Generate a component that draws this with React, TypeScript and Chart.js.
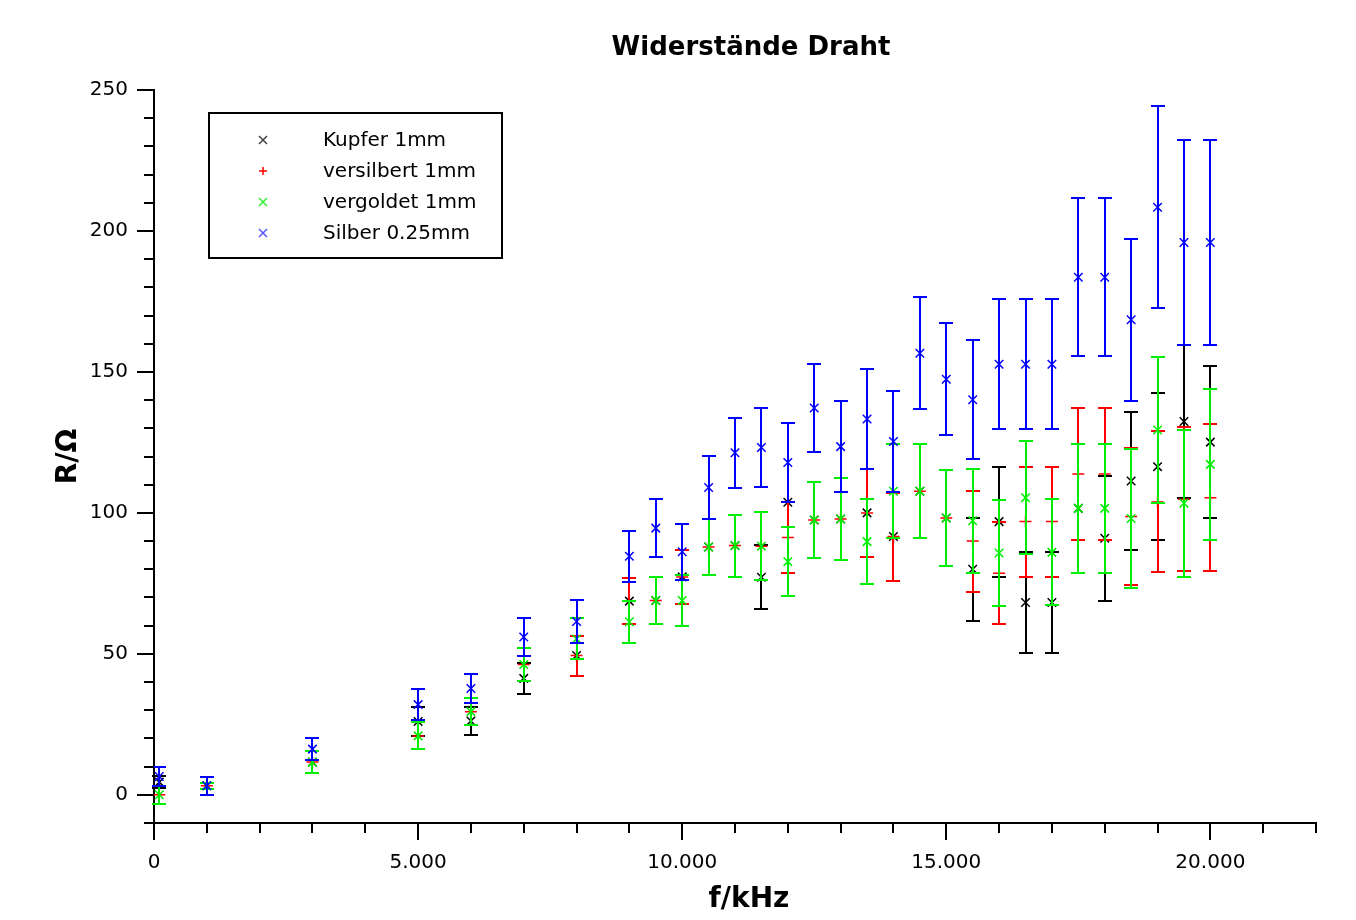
import React, { useEffect, useRef } from 'react';
import { Chart, registerables } from 'chart.js';

Chart.register(...registerables);

const chartTitle = 'Widerstände Draht';
const xAxisTitle = 'f/kHz';
const yAxisTitle = 'R/Ω';

const frequencies = [100, 1000, 3000, 5000, 6000, 7000, 8000, 9000, 9500, 10000, 10500, 11000, 11500, 12000, 12500, 13000, 13500, 14000, 14500, 15000, 15500, 16000, 16500, 17000, 17500, 18000, 18500, 19000, 19500, 20000];

const kupferR = [4.5, 3.2, 11.6, 26, 26.2, 41.3, 49.4, 68.7, 68.9, 77.3, 87.9, 88.4, 77.2, 103.8, 97.5, 97.8, 100, 91.6, 107.7, 98.2, 80, 96.9, 68.2, 68.2, 101.6, 91, 111.3, 116.4, 132.4, 125.1];
const kupferErr = [2, 3.2, 3.9, 5.2, 5, 5.5, 7.1, 8.1, 8.4, 9.6, 9.9, 11, 11.4, 0, 13.6, 14.6, 15.5, 15.6, 16.7, 16.9, 18.3, 19.5, 18, 18, 22.8, 22.2, 24.5, 26, 27, 27];

const versilbertR = [0, 3.2, 11.6, 20.9, 29.5, 46.2, 49.4, 68.7, 68.9, 77.3, 87.9, 88.4, 88.2, 91.3, 97.5, 97.8, 100, 91.6, 107.7, 98.2, 90, 78.6, 96.9, 96.9, 113.8, 113.8, 98.7, 103.9, 104.8, 105.4];
const versilbertErr = [3.2, 3.2, 3.9, 4.8, 4.9, 6, 7.1, 8.1, 8.4, 9.6, 9.9, 11, 12, 12.5, 13.6, 14.6, 15.5, 15.6, 16.7, 16.9, 17.9, 18, 19.5, 19.5, 23.5, 23.5, 24.2, 25, 25.5, 26];

const vergoldetR = [0, 3.2, 11.6, 20.9, 29.5, 46.2, 55.3, 61.4, 68.9, 68.9, 87.9, 88.4, 88.2, 82.7, 97.5, 97.8, 89.8, 107.7, 107.7, 98.2, 97.2, 85.8, 105.4, 86, 101.6, 101.6, 98, 129.4, 103.4, 117.2];
const vergoldetErr = [3.2, 1, 3.9, 4.8, 4.9, 6, 7.3, 7.5, 8.4, 9.2, 9.9, 11, 12, 12.2, 13.6, 14.6, 15, 16.6, 16.7, 16.9, 18.5, 18.8, 20, 18.8, 22.8, 22.8, 24.5, 26, 26, 26.8];

const silberR = [6.5, 3.2, 16.2, 32, 37.7, 56, 61.5, 84.6, 94.6, 86.2, 109, 121.3, 123.2, 117.9, 137.2, 123.5, 133.3, 125.3, 156.6, 147.4, 140.1, 152.7, 152.7, 152.7, 183.6, 183.6, 168.5, 208.4, 195.9, 195.9];
const silberErr = [3.3, 3.2, 4, 5.6, 5.2, 6.6, 7.5, 9, 10.2, 10, 11.2, 12.5, 13.9, 14.1, 15.5, 16.2, 17.7, 18, 19.8, 19.9, 21.1, 23.1, 23.1, 23.1, 28, 28, 28.7, 35.9, 36.4, 36.4];

const seriesNames = ['Kupfer 1mm', 'versilbert 1mm', 'vergoldet 1mm', 'Silber 0.25mm'];
const seriesColors = ['#000000', '#ff0000', '#00ee00', '#0000ff'];
const legendColors = ['#404040', '#ff0000', '#33ee33', '#5555ff'];
const seriesStyles = ['crossRot', 'cross', 'crossRot', 'crossRot'];
const seriesValues = [kupferR, versilbertR, vergoldetR, silberR];
const seriesErrors = [kupferErr, versilbertErr, vergoldetErr, silberErr];

const FONT = "'DejaVu Sans', Verdana, sans-serif";

const formatThousands = (v: number) => {
  const s = String(Math.round(v));
  return s.replace(/\B(?=(\d{3})+(?!\d))/g, '.');
};

const errorBarPlugin = {
  id: 'errorBars',
  beforeDatasetDraw(chart: any, args: any) {
    const i = args.index;
    const errs = seriesErrors[i];
    const ds = chart.data.datasets[i];
    const { ctx } = chart;
    const xs = chart.scales.x;
    const ys = chart.scales.y;
    ctx.save();
    ctx.strokeStyle = seriesColors[i];
    ctx.lineWidth = 2;
    ds.data.forEach((p: any, k: number) => {
      if (!errs[k]) return;
      const px = Math.round(xs.getPixelForValue(p.x));
      const yTop = Math.round(ys.getPixelForValue(p.y + errs[k]));
      const yBot = Math.round(ys.getPixelForValue(p.y - errs[k]));
      ctx.beginPath();
      ctx.moveTo(px, yTop);
      ctx.lineTo(px, yBot);
      ctx.moveTo(px - 7, yTop);
      ctx.lineTo(px + 7, yTop);
      ctx.moveTo(px - 7, yBot);
      ctx.lineTo(px + 7, yBot);
      ctx.stroke();
    });
    ctx.restore();
  },
};

const decorPlugin = {
  id: 'decor',
  afterDraw(chart: any) {
    const { ctx, chartArea } = chart;
    const xs = chart.scales.x;
    const ys = chart.scales.y;
    ctx.save();
    ctx.strokeStyle = '#000';
    ctx.lineWidth = 2;
    ys.ticks.forEach((t: any) => {
      const y = Math.round(ys.getPixelForValue(t.value));
      const len = t.value % 50 === 0 ? 17 : 10;
      ctx.beginPath();
      ctx.moveTo(chartArea.left - len, y);
      ctx.lineTo(chartArea.left, y);
      ctx.stroke();
    });
    xs.ticks.forEach((t: any) => {
      const x = Math.round(xs.getPixelForValue(t.value));
      const len = t.value % 5000 === 0 ? 17 : 10;
      ctx.beginPath();
      ctx.moveTo(x, chartArea.bottom);
      ctx.lineTo(x, chartArea.bottom + len);
      ctx.stroke();
    });
    ctx.fillStyle = '#000';
    ctx.font = `bold 26px ${FONT}`;
    ctx.textAlign = 'center';
    ctx.textBaseline = 'middle';
    const cx = (chartArea.left + chartArea.right) / 2;
    ctx.fillText(chartTitle, cx + 16, 48);
    ctx.font = `bold 28px ${FONT}`;
    ctx.fillText(xAxisTitle, cx + 14, 900);
    const bx = chartArea.left + 55;
    const by = chartArea.top + 23;
    ctx.lineWidth = 2;
    ctx.strokeStyle = '#000';
    ctx.strokeRect(bx, by, 293, 145);
    ctx.font = `20px ${FONT}`;
    ctx.textAlign = 'left';
    seriesNames.forEach((name, i) => {
      const cy = by + 27 + i * 31;
      const mx = bx + 54;
      ctx.strokeStyle = legendColors[i];
      ctx.lineWidth = 1.5;
      ctx.beginPath();
      if (seriesStyles[i] === 'cross') {
        ctx.moveTo(mx - 4, cy);
        ctx.lineTo(mx + 4, cy);
        ctx.moveTo(mx, cy - 4);
        ctx.lineTo(mx, cy + 4);
      } else {
        ctx.moveTo(mx - 4, cy - 4);
        ctx.lineTo(mx + 4, cy + 4);
        ctx.moveTo(mx + 4, cy - 4);
        ctx.lineTo(mx - 4, cy + 4);
      }
      ctx.stroke();
      ctx.fillStyle = '#000';
      ctx.fillText(name, bx + 114, cy + 1);
    });
    ctx.restore();
  },
};

export default function App() {
  const canvasRef = useRef<HTMLCanvasElement | null>(null);

  useEffect(() => {
    if (!canvasRef.current) return;
    Chart.defaults.font.family = FONT;
    Chart.defaults.color = '#000';
    const datasets = seriesNames.map((name, i) => ({
      label: name,
      data: frequencies.map((f, k) => ({ x: f, y: seriesValues[i][k] })),
      pointStyle: seriesStyles[i],
      pointRadius: 6,
      pointHoverRadius: 6,
      borderColor: seriesColors[i],
      backgroundColor: seriesColors[i],
      borderWidth: 1.5,
      showLine: false,
      order: 3 - i,
    }));
    const chart = new Chart(canvasRef.current, {
      type: 'scatter',
      data: { datasets },
      plugins: [errorBarPlugin, decorPlugin],
      options: {
        animation: false,
        responsive: true,
        maintainAspectRatio: false,
        layout: { padding: { top: 90, right: 40, left: 0, bottom: 0 } },
        plugins: {
          legend: { display: false },
          title: { display: false },
          tooltip: { enabled: false },
        },
        scales: {
          x: {
            type: 'linear',
            min: 0,
            max: 22000,
            grid: { display: false, drawTicks: false, tickLength: 0 },
            border: { display: true, color: '#000', width: 2 },
            ticks: {
              stepSize: 1000,
              autoSkip: false,
              maxRotation: 0,
              padding: 28,
              font: { size: 20, family: FONT },
              color: '#000',
              callback: (v: any) => (Number(v) % 5000 === 0 ? formatThousands(Number(v)) : ''),
            },
            title: { display: false },
            afterFit: (scale: any) => {
              scale.height = 97;
            },
          },
          y: {
            type: 'linear',
            min: -10,
            max: 250,
            grid: { display: false, drawTicks: false, tickLength: 0 },
            border: { display: true, color: '#000', width: 2 },
            ticks: {
              stepSize: 10,
              autoSkip: false,
              padding: 26,
              font: { size: 20, family: FONT },
              color: '#000',
              callback: (v: any) => (Number(v) % 50 === 0 ? String(v) : ''),
            },
            title: {
              display: true,
              text: yAxisTitle,
              font: { size: 28, weight: 'bold', family: FONT },
              color: '#000',
              padding: { top: 52, bottom: 0 },
            },
            afterFit: (scale: any) => {
              scale.width = 154;
            },
          },
        },
      },
    } as any);
    return () => chart.destroy();
  }, []);

  return (
    <div style={{ position: 'fixed', left: 0, top: 0, width: 1356, height: 920, background: '#fff' }}>
      <canvas ref={canvasRef} />
    </div>
  );
}
